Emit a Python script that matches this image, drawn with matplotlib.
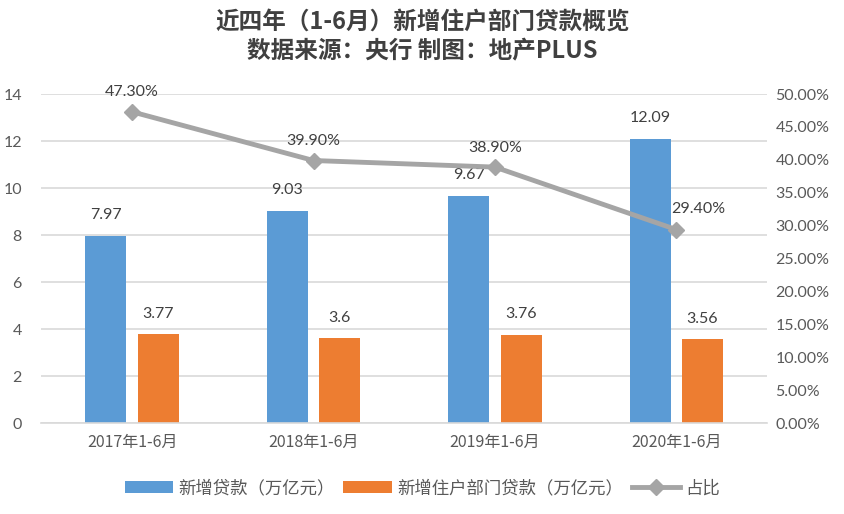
import numpy as np
import matplotlib.pyplot as plt
from matplotlib.ticker import FuncFormatter

plt.rcParams['font.family'] = ['Noto Sans CJK SC', 'DejaVu Sans']

# 数据
categories = ['2017年1-6月', '2018年1-6月', '2019年1-6月', '2020年1-6月']
new_loans = [7.97, 9.03, 9.67, 12.09]
household_loans = [3.77, 3.6, 3.76, 3.56]
share = [0.473, 0.399, 0.389, 0.294]
share_labels = ['47.30%', '39.90%', '38.90%', '29.40%']

blue = '#5B9BD5'
orange = '#ED7D31'
gray = '#A5A5A5'
text_color = '#595959'
num_font = 'Lato'

fig = plt.figure(figsize=(8.45, 5.14), dpi=100)
ax = fig.add_axes([0.049, 0.177, 0.8587, 0.64])
ax2 = ax.twinx()

x = np.arange(len(categories))
w = 0.226
off = 0.144

b1 = ax.bar(x - off, new_loans, w, color=blue, label='新增贷款（万亿元）', zorder=2)
b2 = ax.bar(x + off, household_loans, w, color=orange, label='新增住户部门贷款（万亿元）', zorder=2)

for bars, vals in ((b1, new_loans), (b2, household_loans)):
    for b, v in zip(bars, vals):
        ax.annotate(f'{v:g}', (b.get_x() + b.get_width() / 2, v), xytext=(0, 15),
                    textcoords='offset points', ha='center', va='center',
                    fontsize=11.5, color='#404040', family=num_font)

ax.set_ylim(0, 14)
ax.set_yticks(np.arange(0, 15, 2))
ax.set_xlim(-0.5, 3.5)
ax.set_xticks(x)
ax.set_xticklabels(categories, fontsize=11, color=text_color)
ax.grid(axis='y', color='#D9D9D9', lw=1.2, zorder=0)
ax.set_axisbelow(True)
for s in ['top', 'left', 'right']:
    ax.spines[s].set_visible(False)
ax.spines['bottom'].set_color('#D9D9D9')
ax.spines['bottom'].set_linewidth(1.2)
ax.tick_params(length=0, colors=text_color, labelsize=11.5)
ax.tick_params(axis='y', pad=14)
ax.tick_params(axis='x', pad=8)
for t in ax.get_yticklabels():
    t.set_family(num_font)

line, = ax2.plot(x, share, color=gray, lw=3.5, marker='D', markersize=8,
                 label='占比', zorder=3)
label_offsets = [(0, 14), (0, 14), (0, 14), (16, 15)]
for xi, yi, lab, (dx, dy) in zip(x, share, share_labels, label_offsets):
    ax2.annotate(lab, (xi, yi), xytext=(dx, dy), textcoords='offset points',
                 ha='center', va='center', fontsize=11.5, color='#404040', family=num_font)

ax2.set_ylim(0, 0.5)
ax2.set_yticks(np.arange(0, 0.501, 0.05))
ax2.yaxis.set_major_formatter(FuncFormatter(lambda v, p: f'{v * 100:.2f}%'))
for s in ['top', 'left', 'right', 'bottom']:
    ax2.spines[s].set_visible(False)
ax2.tick_params(length=0, colors=text_color, labelsize=11.5, pad=6)
for t in ax2.get_yticklabels():
    t.set_family(num_font)

fig.text(0.5, 0.958, '近四年（1-6月）新增住户部门贷款概览', ha='center', va='center',
         fontsize=17, fontweight='heavy', color='#404040')
fig.text(0.5, 0.9, '数据来源：央行 制图：地产PLUS', ha='center', va='center',
         fontsize=17, fontweight='heavy', color='#404040')

handles = [b1, b2, line]
fig.legend(handles, [h.get_label() for h in handles], loc='center', ncol=3,
           bbox_to_anchor=(0.5, 0.05), frameon=False, fontsize=12.5,
           labelcolor=text_color, handlelength=2.8, handletextpad=0.3,
           columnspacing=0.5)

fig.savefig('out.png', dpi=100)
